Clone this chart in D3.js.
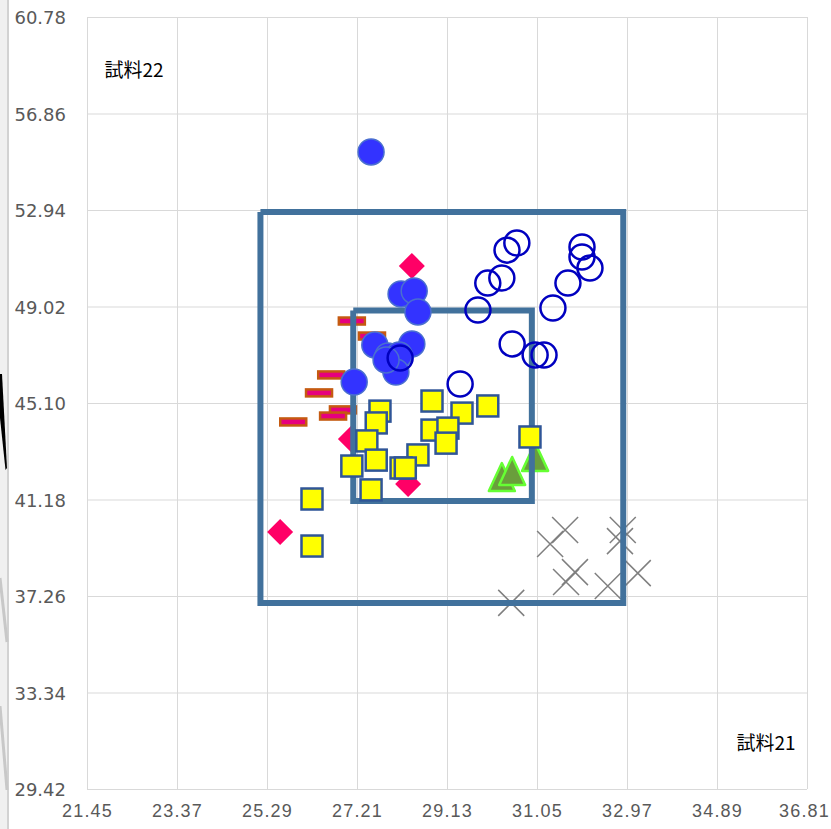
<!DOCTYPE html>
<html><head><meta charset="utf-8">
<script src="https://cdn.jsdelivr.net/npm/d3@7"></script>
<style>
html,body{margin:0;padding:0;background:#fff;overflow:hidden;}
svg{display:block;}
</style></head>
<body>
<svg id="chart" width="831" height="829"></svg>
<script>
// ---- data ----
const xTicks = [21.45, 23.37, 25.29, 27.21, 29.13, 31.05, 32.97, 34.89, 36.81];
const yTicks = [29.42, 33.34, 37.26, 41.18, 45.10, 49.02, 52.94, 56.86, 60.78];
const xTitle = "試料21";
const yTitle = "試料22";

const dashX = [27.10, 27.53, 26.66, 26.40, 26.91, 26.70, 25.85];
const dashY = [48.43, 47.82, 46.24, 45.51, 44.82, 44.57, 44.33];

const diamondX = [28.38, 27.08, 28.30, 25.57];
const diamondY = [50.67, 43.64, 41.81, 39.86];

const triX = [30.30, 30.52, 31.01];
const triY = [42.05, 42.30, 42.87];

const crossX = [31.65, 31.33, 31.86, 31.67, 32.88, 32.82, 33.20, 32.56, 30.50];
const crossY = [39.94, 39.37, 38.23, 37.83, 39.94, 39.49, 38.19, 37.67, 36.98];

const outerBoxX = [25.15, 32.89, 32.89, 25.15, 25.15];
const outerBoxY = [52.86, 52.86, 36.98, 36.98, 52.86];
const innerBoxX = [27.13, 30.94, 30.94, 27.13, 27.13];
const innerBoxY = [48.86, 48.86, 41.12, 41.12, 48.86];

const blueX = [27.51, 28.15, 28.43, 28.51, 27.59, 28.38, 27.87, 28.11, 28.04, 27.15, 27.83];
const blueY = [55.30, 49.53, 49.65, 48.80, 47.46, 47.50, 47.01, 47.05, 46.36, 45.95, 46.85];

const ringX = [30.62, 30.41, 30.30, 30.00, 29.79, 30.52, 31.01, 31.20, 32.01, 32.01, 32.18, 31.71, 31.39, 29.41, 28.13];
const ringY = [51.60, 51.31, 50.18, 49.97, 48.88, 47.50, 47.05, 47.05, 51.44, 51.03, 50.58, 49.97, 48.96, 45.87, 46.93];

const squareX = [28.81, 27.70, 27.62, 30.00, 29.45, 28.81, 29.15, 29.11, 27.42, 28.51, 27.62, 27.10, 28.15, 28.24, 27.51, 26.25, 26.25, 30.90];
const squareY = [45.18, 44.77, 44.29, 44.98, 44.69, 44.00, 44.08, 43.47, 43.56, 42.99, 42.78, 42.54, 42.46, 42.46, 41.57, 41.20, 39.29, 43.72];

// ---- chart ----
const svg = d3.select("#chart");
const L = 87, R = 807, T = 17, B = 789;
const x = d3.scaleLinear().domain([xTicks[0], xTicks[xTicks.length-1]]).range([L, R]);
const y = d3.scaleLinear().domain([yTicks[0], yTicks[yTicks.length-1]]).range([B, T]);
const zip = (a, b) => a.map((v, i) => [v, b[i]]);

// window-edge strip at far left
svg.append("rect").attr("x", 0).attr("y", 0).attr("width", 8).attr("height", 829).attr("fill", "#f0f0f0");
svg.append("line").attr("x1", 8).attr("x2", 8).attr("y1", 0).attr("y2", 829).attr("stroke", "#d2d2d2").attr("stroke-width", 2);
svg.append("path").attr("d", "M0,374 L2,374 L7,468 L5.5,470 L0,418 Z").attr("fill", "#000");
svg.append("path").attr("d", "M0,578 L7,642").attr("stroke", "#c8c8c8").attr("stroke-width", 3);
svg.append("path").attr("d", "M0,706 L7,790").attr("stroke", "#c8c8c8").attr("stroke-width", 3);

// gridlines
const gx = svg.append("g").attr("transform", `translate(0,${B})`)
  .call(d3.axisBottom(x).tickValues(xTicks).tickSize(-(B - T)).tickFormat(""));
gx.select(".domain").remove();
gx.selectAll("line").attr("stroke", "#d9d9d9").attr("stroke-width", 1);
const gy = svg.append("g").attr("transform", `translate(${L},0)`)
  .call(d3.axisLeft(y).tickValues(yTicks).tickSize(-(R - L)).tickFormat(""));
gy.select(".domain").remove();
gy.selectAll("line").attr("stroke", "#d9d9d9").attr("stroke-width", 1);

// tick labels
const xl = svg.append("g").attr("transform", `translate(0,${B})`)
  .call(d3.axisBottom(x).tickValues(xTicks).tickSize(0).tickPadding(0).tickFormat(d3.format(".2f")));
xl.select(".domain").remove();
xl.selectAll("text").attr("font-family", "'Liberation Sans', Arial, sans-serif").attr("font-size", 18)
  .attr("letter-spacing", 1.2).attr("fill", "#595959").attr("dy", 0).attr("y", 28)
  .attr("dx", (d, i) => i === xTicks.length - 1 ? -3 : 0);
const yl = svg.append("g").attr("transform", `translate(${L},0)`)
  .call(d3.axisLeft(y).tickValues(yTicks).tickSize(0).tickPadding(0).tickFormat(d3.format(".2f")));
yl.select(".domain").remove();
yl.selectAll("text").attr("font-family", "'DejaVu Sans', sans-serif").attr("font-size", 18)
  .attr("fill", "#595959").attr("x", -21).attr("dy", "0.38em");

// axis titles
svg.append("text").attr("x", 134).attr("y", 77).attr("text-anchor", "middle")
  .attr("font-family", "'Noto Sans CJK JP', sans-serif").attr("font-size", 19).attr("fill", "#000").text(yTitle);
svg.append("text").attr("x", 766).attr("y", 750).attr("text-anchor", "middle")
  .attr("font-family", "'Noto Sans CJK JP', sans-serif").attr("font-size", 19).attr("fill", "#000").text(xTitle);

const plot = svg.append("g");

// dashes
plot.selectAll(".dash").data(zip(dashX, dashY)).enter().append("rect")
  .attr("x", d => x(d[0]) - 13).attr("y", d => y(d[1]) - 3.5).attr("width", 26).attr("height", 7)
  .attr("fill", "#e6007e").attr("stroke", "#c55a11").attr("stroke-width", 2.5);

// diamonds
plot.selectAll(".dia").data(zip(diamondX, diamondY)).enter().append("path")
  .attr("transform", d => `translate(${x(d[0])},${y(d[1])})`)
  .attr("d", "M0,-13 L13,0 L0,13 L-13,0 Z").attr("fill", "#ff0066");

// triangles
plot.selectAll(".tri").data(zip(triX, triY)).enter().append("path")
  .attr("transform", d => `translate(${x(d[0])},${y(d[1])})`)
  .attr("d", "M0,-15 L13,13 L-13,13 Z").attr("fill", "#6a9e3c").attr("stroke", "#66ff33").attr("stroke-width", 2.5)
  .attr("stroke-linejoin", "round");

// crosses
plot.selectAll(".cross").data(zip(crossX, crossY)).enter().append("path")
  .attr("transform", d => `translate(${x(d[0])},${y(d[1])})`)
  .attr("d", "M-13,-13 L13,13 M13,-13 L-13,13").attr("stroke", "#7f7f7f").attr("stroke-width", 1.5).attr("fill", "none");

// boxes
const line = d3.line().x(d => x(d[0])).y(d => y(d[1]));
plot.append("path").attr("d", line(zip(outerBoxX, outerBoxY))).attr("fill", "none")
  .attr("stroke", "#41719c").attr("stroke-width", 6).attr("stroke-linejoin", "miter");
plot.append("path").attr("d", line(zip(innerBoxX, innerBoxY))).attr("fill", "none")
  .attr("stroke", "#41719c").attr("stroke-width", 6).attr("stroke-linejoin", "miter");

// filled blue circles
plot.selectAll(".blue").data(zip(blueX, blueY)).enter().append("circle")
  .attr("cx", d => x(d[0])).attr("cy", d => y(d[1])).attr("r", 13)
  .attr("fill", "#3333ff").attr("stroke", "#4a6fd0").attr("stroke-width", 1.5);

// hollow circles
plot.selectAll(".ring").data(zip(ringX, ringY)).enter().append("circle")
  .attr("cx", d => x(d[0])).attr("cy", d => y(d[1])).attr("r", 12.5)
  .attr("fill", "none").attr("stroke", "#0000c0").attr("stroke-width", 2.5);

// yellow squares
plot.selectAll(".sq").data(zip(squareX, squareY)).enter().append("rect")
  .attr("x", d => x(d[0]) - 10.5).attr("y", d => y(d[1]) - 10.5).attr("width", 21).attr("height", 21)
  .attr("fill", "#ffff00").attr("stroke", "#2f5597").attr("stroke-width", 2.5);
</script>
</body></html>
